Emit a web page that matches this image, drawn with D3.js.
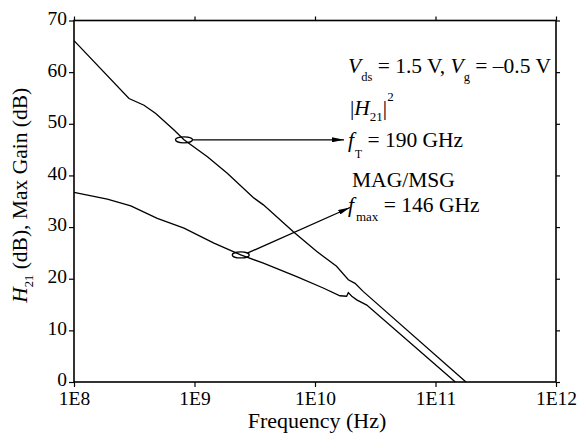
<!DOCTYPE html>
<html>
<head>
<meta charset="utf-8">
<script src="https://cdn.jsdelivr.net/npm/d3@7"></script>
<style>
  body { margin: 0; background: #fff; }
  svg { display: block; }
</style>
</head>
<body>
<div id="chart"></div>
<script>
// |H21|^2 curve
const h21Freq = [1e8, 2.86e8, 3.81e8, 4.77e8, 6.76e8, 8.18e8, 1.28e9, 1.87e9, 3.12e9, 3.73e9, 6.61e9, 1.03e10, 1.51e10, 1.89e10, 2.15e10, 2.52e10, 1.79e11];
const h21Gain = [66.1, 54.9, 53.6, 52.0, 48.8, 46.9, 43.6, 40.4, 35.6, 34.3, 29.1, 25.3, 22.4, 19.8, 19.1, 17.5, 0];

// MAG/MSG curve
const magFreq = [1e8, 1.89e8, 2.96e8, 4.91e8, 8.18e8, 1.45e9, 2.42e9, 3.73e9, 7.05e9, 1.17e10, 1.61e10, 1.83e10, 1.89e10, 2.02e10, 2.22e10, 2.69e10, 1.46e11];
const magGain = [36.7, 35.4, 34.1, 31.7, 29.8, 26.9, 24.6, 23.0, 20.4, 18.2, 16.7, 16.6, 17.3, 16.6, 15.9, 14.9, 0];

const xTicks = [1e8, 1e9, 1e10, 1e11, 1e12];
const xTickLabels = ["1E8", "1E9", "1E10", "1E11", "1E12"];
const yTicks = [0, 10, 20, 30, 40, 50, 60, 70];

// points marked with an ellipse
const h21Mark = [8.18e8, 46.9];
const magMark = [2.42e9, 24.6];

const FONT = "'Liberation Serif', 'Times New Roman', serif";
const W = 584, H = 436;
const margin = { top: 20.5, right: 28, bottom: 54, left: 74 };
const width = W - margin.left - margin.right;
const height = H - margin.top - margin.bottom;

const svg = d3.select("#chart").append("svg")
    .attr("width", W)
    .attr("height", H)
    .style("font-family", FONT);

svg.append("defs").append("marker")
    .attr("id", "arrow")
    .attr("viewBox", "0 0 12 5")
    .attr("refX", 12)
    .attr("refY", 2.5)
    .attr("markerUnits", "userSpaceOnUse")
    .attr("markerWidth", 12)
    .attr("markerHeight", 5)
    .attr("orient", "auto")
    .append("path")
    .attr("d", "M0,0 L12,2.5 L0,5 Z")
    .attr("fill", "#000");

const g = svg.append("g")
    .attr("transform", `translate(${margin.left},${margin.top})`);

const x = d3.scaleLog().domain([1e8, 1e12]).range([0, width]);
const y = d3.scaleLinear().domain([0, 70]).range([height, 0]);

// axes
const fmt = (d) => xTickLabels[xTicks.indexOf(d)];
const styleAxis = (size) => (sel) => {
    sel.attr("font-family", null);
    sel.select(".domain").remove();
    sel.selectAll(".tick line").attr("stroke", "#000").attr("stroke-width", 1.2);
    sel.selectAll(".tick text")
        .style("font-family", FONT)
        .style("font-size", size)
        .attr("fill", "#000");
};

g.append("g")
    .attr("transform", `translate(0,${height})`)
    .call(d3.axisBottom(x).tickValues(xTicks).tickFormat(fmt).tickSize(5).tickPadding(4))
    .call(styleAxis("19.5px"));

g.append("g")
    .call(d3.axisTop(x).tickValues(xTicks).tickFormat("").tickSize(4))
    .call(styleAxis("19px"));

g.append("g")
    .call(d3.axisLeft(y).tickValues(yTicks).tickSize(5).tickPadding(2))
    .call(styleAxis("19.5px"))
    .selectAll(".tick text").attr("dy", "0.2em");

g.append("g")
    .attr("transform", `translate(${width},0)`)
    .call(d3.axisRight(y).tickValues(yTicks).tickFormat("").tickSize(4))
    .call(styleAxis("19px"));

g.append("rect")
    .attr("width", width)
    .attr("height", height)
    .attr("fill", "none")
    .attr("stroke", "#000")
    .attr("stroke-width", 1.6);

// curves
const line = d3.line()
    .x((d) => x(d[0]))
    .y((d) => y(d[1]));

g.append("path")
    .datum(d3.zip(h21Freq, h21Gain))
    .attr("d", line)
    .attr("fill", "none")
    .attr("stroke", "#000")
    .attr("stroke-width", 1.3);

g.append("path")
    .datum(d3.zip(magFreq, magGain))
    .attr("d", line)
    .attr("fill", "none")
    .attr("stroke", "#000")
    .attr("stroke-width", 1.3);

// ellipses + arrows
[h21Mark, magMark].forEach((m) => {
    g.append("ellipse")
        .attr("cx", x(m[0]))
        .attr("cy", y(m[1]))
        .attr("rx", 8.5)
        .attr("ry", 3)
        .attr("fill", "none")
        .attr("stroke", "#000")
        .attr("stroke-width", 1.3);
});

g.append("line")
    .attr("x1", x(h21Mark[0]) + 8.5)
    .attr("y1", y(h21Mark[1]))
    .attr("x2", 344 - margin.left)
    .attr("y2", y(h21Mark[1]))
    .attr("stroke", "#000")
    .attr("stroke-width", 1.3)
    .attr("marker-end", "url(#arrow)");

g.append("line")
    .attr("x1", x(magMark[0]) + 7)
    .attr("y1", y(magMark[1]) - 2)
    .attr("x2", 350 - margin.left)
    .attr("y2", 207.5 - margin.top)
    .attr("stroke", "#000")
    .attr("stroke-width", 1.3)
    .attr("marker-end", "url(#arrow)");

// annotation text
const note = svg.append("g").style("font-size", "21.5px").style("font-family", FONT);

const l1 = note.append("text").attr("x", 348).attr("y", 73);
l1.append("tspan").style("font-style", "italic").text("V");
l1.append("tspan").style("font-size", "12.5px").attr("dy", 8).text("ds");
l1.append("tspan").attr("dy", -8).text(" = 1.5 V, ");
l1.append("tspan").style("font-style", "italic").text("V");
l1.append("tspan").style("font-size", "12.5px").attr("dy", 8).text("g");
l1.append("tspan").attr("dy", -8).text(" = \u20130.5 V");

const l2 = note.append("text").attr("x", 350).attr("y", 115);
l2.append("tspan").text("|");
l2.append("tspan").style("font-style", "italic").text("H");
l2.append("tspan").style("font-size", "13px").attr("dy", 6).text("21");
l2.append("tspan").attr("dy", -6).text("|");
l2.append("tspan").style("font-size", "13px").attr("dy", -14).text("2");

const l3 = note.append("text").attr("x", 348).attr("y", 147);
l3.append("tspan").style("font-style", "italic").text("f");
l3.append("tspan").style("font-size", "11.5px").attr("dy", 11).attr("dx", 1).text("T");
l3.append("tspan").attr("dy", -11).text(" = 190 GHz");

note.append("text").attr("x", 352).attr("y", 187).text("MAG/MSG");

const l5 = note.append("text").attr("x", 348).attr("y", 212);
l5.append("tspan").style("font-style", "italic").text("f");
l5.append("tspan").style("font-size", "13px").attr("dy", 9).attr("dx", 2).text("max");
l5.append("tspan").attr("dy", -9).text(" = 146 GHz");

// axis titles
svg.append("text")
    .attr("x", margin.left + width / 2 + 2)
    .attr("y", 428)
    .attr("text-anchor", "middle")
    .style("font-family", FONT)
    .style("font-size", "22px")
    .text("Frequency (Hz)");

const yl = svg.append("text")
    .attr("transform", `translate(27,${margin.top + height / 2 - 6}) rotate(-90)`)
    .attr("text-anchor", "middle")
    .style("font-family", FONT)
    .style("font-size", "21.5px");
yl.append("tspan").style("font-style", "italic").text("H");
yl.append("tspan").style("font-size", "12.5px").attr("dy", 6).text("21");
yl.append("tspan").attr("dy", -6).text(" (dB), Max Gain (dB)");
</script>
</body>
</html>
